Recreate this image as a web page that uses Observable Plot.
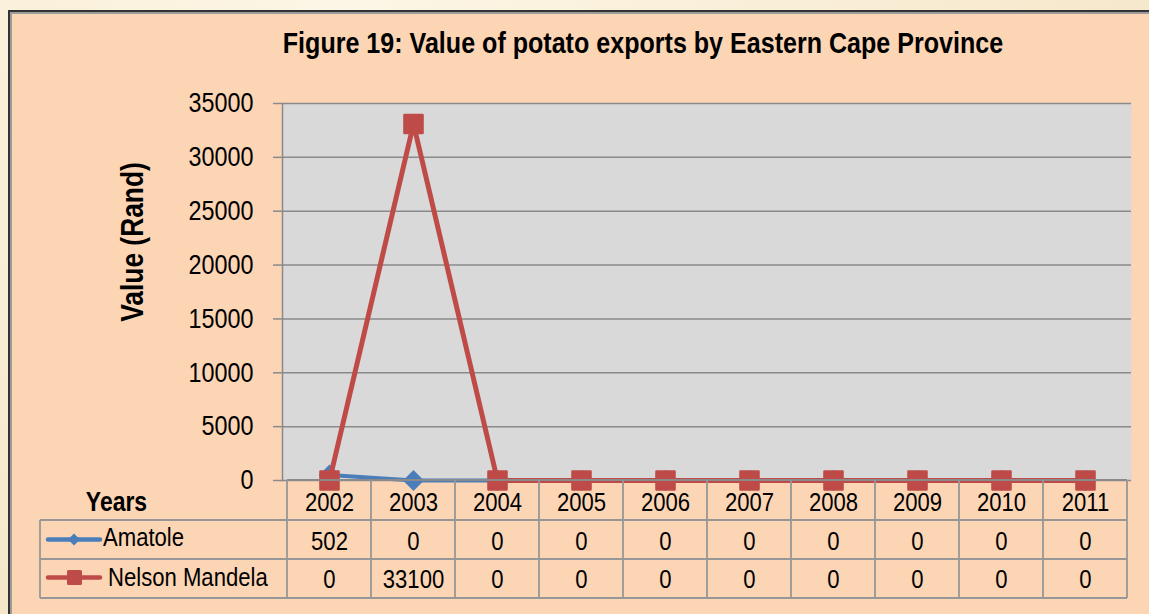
<!DOCTYPE html>
<html>
<head>
<meta charset="utf-8">
<script src="https://cdn.jsdelivr.net/npm/d3@7"></script>
<script src="https://cdn.jsdelivr.net/npm/@observablehq/plot@0.6"></script>
<style>
  html, body { margin: 0; padding: 0; }
  body { width: 1149px; height: 614px; overflow: hidden; position: relative;
         background: radial-gradient(ellipse at 30% 0%, #FDF6E6 0%, #F6E8CC 70%, #F1DFC0 100%); }
  #frame { position: absolute; left: 8px; top: 10px; width: 1170px; height: 640px;
           background: #FCD5B4; border-left: 2px solid #333; border-top: 2px solid #333;
           box-shadow: inset 2px 2px 0 #9C9C9C; }
  #chart { position: absolute; left: 0; top: 0; }
</style>
</head>
<body>
<div id="frame"></div>
<div id="chart"></div>
<script>
// ---- data ----
const years = ["2002","2003","2004","2005","2006","2007","2008","2009","2010","2011"];
const seriesNames = ["Amatole", "Nelson Mandela"];
const amatole = [502, 0, 0, 0, 0, 0, 0, 0, 0, 0];
const nelsonMandela = [0, 33100, 0, 0, 0, 0, 0, 0, 0, 0];
const yTicks = [0, 5000, 10000, 15000, 20000, 25000, 30000, 35000];
const titleText = "Figure 19: Value of potato exports by Eastern Cape Province";
const yLabel = "Value (Rand)";
const tableHeader = "Years";

const colors = ["#4A7EBB", "#BE4B48"];
const FONT = "'Liberation Sans', Arial, sans-serif";
const NARROW = 0.85; // horizontal condensing to mimic a narrow typeface

const amatoleRows = years.map((year, i) => ({year, series: seriesNames[0], value: amatole[i]}));
const nelsonRows = years.map((year, i) => ({year, series: seriesNames[1], value: nelsonMandela[i]}));

const plot = Plot.plot({
  width: 1149, height: 614,
  marginLeft: 282, marginRight: 18, marginTop: 103, marginBottom: 134,
  style: {background: "transparent", fontFamily: FONT, overflow: "visible"},
  x: {type: "point", domain: years, padding: 0.5, label: null},
  y: {domain: [0, 35000], label: null},
  color: {domain: seriesNames, range: colors},
  marks: [
    Plot.frame({fill: "#D9D9D9", stroke: null}),
    Plot.gridY(yTicks, {stroke: "#8A8A8A", strokeOpacity: 1, strokeWidth: 1.5}),
    Plot.frame({anchor: "left", stroke: "#8A8A8A", strokeWidth: 1.5}),
    Plot.axisY(yTicks, {tickSize: 9, tickPadding: 20, fontSize: 27.5, stroke: "#8A8A8A", strokeWidth: 1.5,
                        fill: "#000", tickFormat: d => String(d), label: null}),
    Plot.axisX({tickSize: 0, tickPadding: 12, fontSize: 26, fill: "#000", label: null}),
    Plot.line(amatoleRows, {x: "year", y: "value", stroke: "series", strokeWidth: 4}),
    Plot.dot(amatoleRows, {x: "year", y: "value", fill: "series", symbol: "diamond2", r: 9.5, stroke: null}),
    Plot.line(nelsonRows, {x: "year", y: "value", stroke: "series", strokeWidth: 5}),
    Plot.dot(nelsonRows, {x: "year", y: "value", fill: "series", stroke: "series", symbol: "square", r: 10.2,
                          strokeWidth: 2.5, strokeLinejoin: "round"}),
    // data table values
    Plot.text(amatoleRows, {x: "year", frameAnchor: "bottom", lineAnchor: "middle", dy: 61,
                            text: d => String(d.value), fontSize: 26, fill: "#000"}),
    Plot.text(nelsonRows, {x: "year", frameAnchor: "bottom", lineAnchor: "middle", dy: 99,
                           text: d => String(d.value), fontSize: 26, fill: "#000"})
  ]
});
document.getElementById("chart").appendChild(plot);

// ---- decorations: title, axis title, data table grid and legend keys ----
const svg = d3.select(plot);
const xs = plot.scale("x");
const step = xs.apply(years[1]) - xs.apply(years[0]);
const bounds = years.map(y => xs.apply(y) - step / 2).concat([xs.apply(years[years.length - 1]) + step / 2]);
const left = bounds[0], right = bounds[bounds.length - 1];
const axisY = 480, row1 = 520, row2 = 559, row3 = 598, tableLeft = 40;

const g = svg.append("g").attr("stroke", "#979797").attr("stroke-width", 1.8).attr("fill", "none");
g.append("line").attr("x1", left).attr("x2", right).attr("y1", axisY).attr("y2", axisY).attr("stroke", "#8A8A8A");
for (const yy of [row1, row2, row3]) {
  g.append("line").attr("x1", tableLeft).attr("x2", right).attr("y1", yy).attr("y2", yy);
}
g.append("line").attr("x1", tableLeft).attr("x2", tableLeft).attr("y1", row1).attr("y2", row3);
for (const b of bounds) {
  g.append("line").attr("x1", b).attr("x2", b).attr("y1", axisY).attr("y2", row3);
}

svg.append("text").attr("x", 643).attr("y", 53).attr("text-anchor", "middle")
  .attr("font-family", FONT).attr("font-weight", "bold").attr("font-size", 29.5).attr("fill", "#000")
  .text(titleText);

svg.append("text").attr("transform", "translate(143,242) rotate(-90)").attr("text-anchor", "middle")
  .attr("font-family", FONT).attr("font-weight", "bold").attr("font-size", 31).attr("fill", "#000")
  .text(yLabel);

svg.append("text").attr("x", 116.5).attr("y", 511).attr("text-anchor", "middle")
  .attr("font-family", FONT).attr("font-weight", "bold").attr("font-size", 27).attr("fill", "#000")
  .text(tableHeader);

// legend keys in the table
const keyY = [539.5, 577.5];
const baseY = [546, 586];
const textX = [103, 108];
seriesNames.forEach((name, i) => {
  const k = svg.append("g");
  k.append("line").attr("x1", 48).attr("x2", 100).attr("y1", keyY[i]).attr("y2", keyY[i])
    .attr("stroke", colors[i]).attr("stroke-width", 4.5).attr("stroke-linecap", "round");
  if (i === 0) {
    k.append("path").attr("d", d3.symbol(d3.symbolSquare, 72)()).attr("transform", `translate(74,${keyY[i]}) rotate(45)`).attr("fill", colors[i]);
  } else {
    k.append("rect").attr("x", 67).attr("y", keyY[i] - 7.5).attr("width", 15).attr("height", 15).attr("rx", 1.5).attr("fill", colors[i]);
  }
  k.append("text").attr("x", textX[i]).attr("y", baseY[i]).attr("text-anchor", "start")
    .attr("font-family", FONT).attr("font-size", 26).attr("fill", "#000").text(name);
});

// condense every label horizontally (Arial-Narrow look)
svg.selectAll("text").each(function() {
  const L = this.getComputedTextLength();
  if (L > 0) {
    this.setAttribute("textLength", (L * NARROW).toFixed(2));
    this.setAttribute("lengthAdjust", "spacingAndGlyphs");
  }
});
</script>
</body>
</html>
